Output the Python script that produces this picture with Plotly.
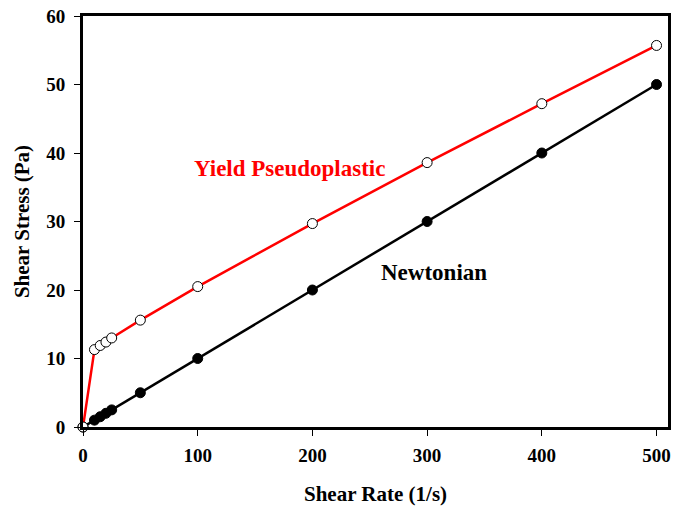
import plotly.graph_objects as go

# Shear rate (1/s) and shear stress (Pa) for the two fluids
shear_rate = [0, 10, 15, 20, 25, 50, 100, 200, 300, 400, 500]
newtonian_stress = [0, 1.0, 1.5, 2.0, 2.5, 5.0, 10.0, 20.0, 30.0, 40.0, 50.0]
yield_pseudo_stress = [0, 11.3, 11.9, 12.4, 13.0, 15.6, 20.5, 29.7, 38.6, 47.2, 55.7]

x_ticks = [0, 100, 200, 300, 400, 500]
y_ticks = [0, 10, 20, 30, 40, 50, 60]

FONT = "Liberation Serif, Times New Roman, serif"

fig = go.Figure()

fig.add_trace(go.Scatter(
    x=shear_rate, y=newtonian_stress, mode="lines+markers",
    line=dict(color="black", width=2.5),
    marker=dict(symbol="circle", size=10, color="black",
                line=dict(color="black", width=1)),
    cliponaxis=False, showlegend=False,
))

fig.add_trace(go.Scatter(
    x=shear_rate, y=yield_pseudo_stress, mode="lines+markers",
    line=dict(color="#ff0000", width=2.5),
    marker=dict(symbol="circle", size=10, color="white",
                line=dict(color="black", width=1)),
    cliponaxis=False, showlegend=False,
))

fig.add_annotation(x=180, y=37.8, text="<b>Yield Pseudoplastic</b>",
                   showarrow=False, font=dict(family=FONT, size=23, color="#ff0000"))
fig.add_annotation(x=306, y=22.6, text="<b>Newtonian</b>",
                   showarrow=False, font=dict(family=FONT, size=23, color="black"))

axis_common = dict(
    showline=True, linecolor="black", linewidth=3, mirror=True,
    ticks="outside", ticklen=6, tickwidth=1, tickcolor="black",
    showgrid=False, zeroline=False,
    tickfont=dict(family=FONT, size=19, color="black", weight="bold"),
)

fig.update_layout(
    width=673, height=506,
    margin=dict(l=83, r=2, t=16, b=79),
    paper_bgcolor="white", plot_bgcolor="white",
    xaxis=dict(range=[0, 510], tickvals=x_ticks, ticklabelstandoff=3,
               title=dict(text="<b>Shear Rate (1/s)</b>", standoff=23,
                          font=dict(family=FONT, size=21, color="black")),
               **axis_common),
    yaxis=dict(range=[0, 60], tickvals=y_ticks, ticklabelstandoff=5,
               title=dict(text="<b>Shear Stress (Pa)</b>", standoff=11,
                          font=dict(family=FONT, size=21, color="black")),
               **axis_common),
)

fig.write_html("out.html")
